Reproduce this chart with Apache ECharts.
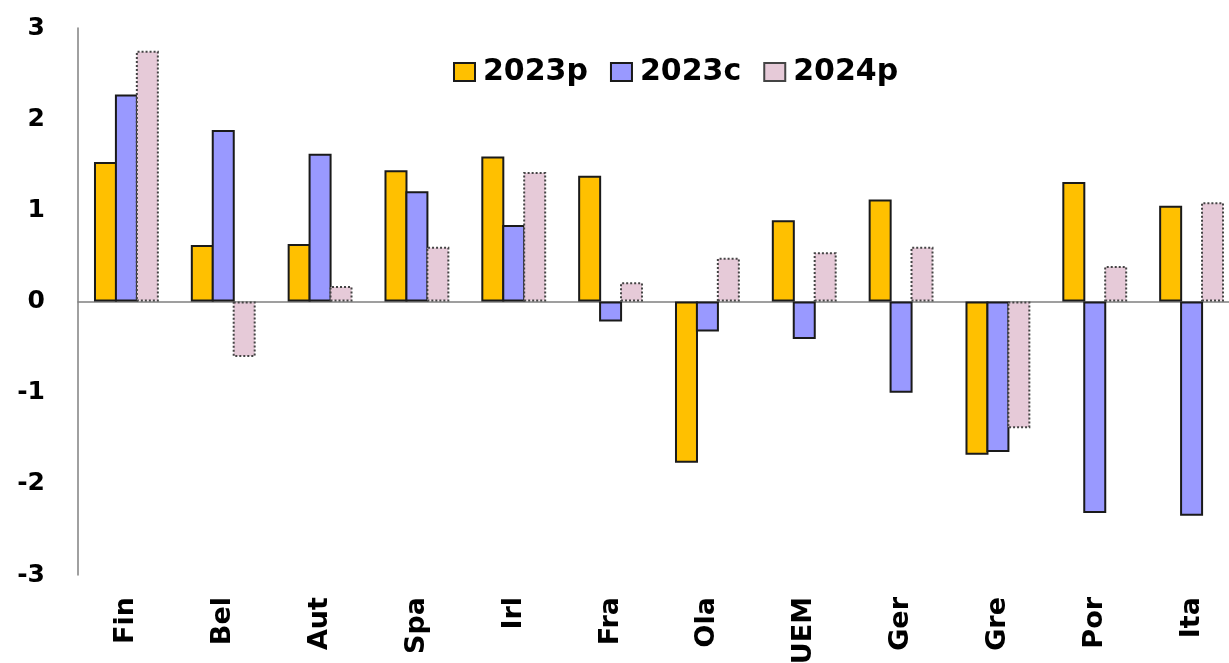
<!DOCTYPE html>
<html>
<head>
<meta charset="utf-8">
<script src="https://cdn.jsdelivr.net/npm/echarts@6/dist/echarts.min.js"></script>
<style>
  html, body { margin: 0; padding: 0; background: #fff; }
  #chart { width: 1229px; height: 663px; }
</style>
</head>
<body>
<div id="chart"></div>
<script>
// Country codes along the horizontal axis
const categories = ['Fin', 'Bel', 'Aut', 'Spa', 'Irl', 'Fra', 'Ola', 'UEM', 'Ger', 'Gre', 'Por', 'Ita'];

// Series values
const s2023p = [1.53, 0.62, 0.63, 1.44, 1.59, 1.38, -1.77, 0.89, 1.12, -1.68, 1.31, 1.05];
const s2023c = [2.27, 1.88, 1.62, 1.21, 0.84, -0.22, -0.33, -0.41, -1.00, -1.65, -2.32, -2.35];
const s2024p = [2.75, -0.61, 0.17, 0.60, 1.42, 0.21, 0.48, 0.54, 0.60, -1.39, 0.39, 1.09];

const seriesNames = ['2023p', '2023c', '2024p'];
const yTicks = [-3, -2, -1, 0, 1, 2, 3];

const FONT = 'DejaVu Sans';

const chart = echarts.init(document.getElementById('chart'), null, { renderer: 'canvas' });

function barSeries(name, data, color, borderColor, borderType) {
  return {
    name: name,
    type: 'bar',
    xAxisIndex: 0,
    data: data,
    barWidth: 23,
    barGap: '-9%',
    itemStyle: {
      color: color,
      borderColor: borderColor,
      borderWidth: 2,
      borderType: borderType
    }
  };
}

chart.setOption({
  animation: false,
  backgroundColor: '#ffffff',
  grid: {
    left: 78, top: 28, width: 1162, height: 547,
    containLabel: false,
    outerBoundsMode: 'none'
  },
  legend: {
    left: 453,
    top: 57,
    padding: 0,
    icon: 'rect',
    itemWidth: 21,
    itemHeight: 18,
    itemGap: 22,
    data: seriesNames,
    textStyle: {
      fontFamily: FONT,
      fontWeight: 'bold',
      fontSize: 30,
      color: '#000',
      padding: [0, 0, 0, 3]
    }
  },
  xAxis: [
    {
      type: 'category',
      data: categories,
      position: 'bottom',
      axisLine: { show: false, onZero: false },
      axisTick: { show: false },
      axisLabel: {
        rotate: 90,
        margin: 22,
        fontFamily: FONT,
        fontWeight: 'bold',
        fontSize: 27,
        color: '#000',
        interval: 0
      },
      splitLine: { show: false }
    },
    {
      // zero baseline across the plot
      type: 'category',
      data: categories,
      axisLine: { show: true, onZero: true, lineStyle: { color: '#808080', width: 1.5 } },
      axisTick: { show: false },
      axisLabel: { show: false },
      splitLine: { show: false }
    }
  ],
  yAxis: {
    type: 'value',
    min: yTicks[0],
    max: yTicks[yTicks.length - 1],
    interval: 1,
    axisLine: { show: true, lineStyle: { color: '#808080', width: 1.5 } },
    axisTick: { show: false },
    splitLine: { show: false },
    axisLabel: {
      margin: 33,
      fontFamily: FONT,
      fontWeight: 'bold',
      fontSize: 25,
      color: '#000'
    }
  },
  series: [
    barSeries(seriesNames[0], s2023p, '#FFC000', '#1a1a1a', 'solid'),
    barSeries(seriesNames[1], s2023c, '#9999FF', '#1a1a1a', 'solid'),
    barSeries(seriesNames[2], s2024p, '#E6CAD8', '#444444', 'dotted')
  ]
});
</script>
</body>
</html>
